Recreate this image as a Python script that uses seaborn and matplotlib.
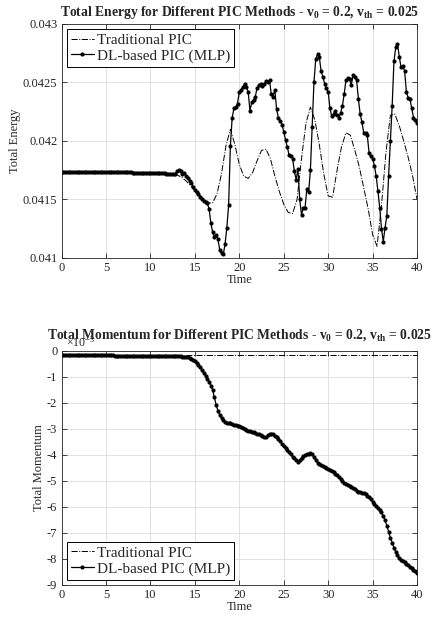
import numpy as np
import pandas as pd
import matplotlib
matplotlib.use("Agg")
import matplotlib.pyplot as plt
import seaborn as sns
from matplotlib.ticker import FixedLocator, FuncFormatter

# ---------------- data ----------------
t_dl = np.round(np.arange(0, 40.0001, 0.2), 1)      # 201 samples
t_trad = np.round(np.arange(0, 40.0001, 0.5), 1)    # 81 samples
t_trad_mom = [0, 5, 10, 15, 20, 25, 30, 35, 40]

dl_energy = [
    # 0.0 - 12.6
    0.041735, 0.041735, 0.041735, 0.041735, 0.041735, 0.041735, 0.041735, 0.041735,
    0.041734, 0.041734, 0.041734, 0.041734, 0.041734, 0.041734, 0.041734, 0.041734,
    0.041733, 0.041733, 0.041733, 0.041733, 0.041733, 0.041733, 0.041733, 0.041733,
    0.041732, 0.041732, 0.041732, 0.041732, 0.041732, 0.041732, 0.041732, 0.041732,
    0.041731, 0.041731, 0.041731, 0.041731, 0.041731, 0.041731, 0.041731, 0.041731,
    0.041730, 0.041730, 0.041730, 0.041730, 0.041730, 0.041729, 0.041729, 0.041729,
    0.041728, 0.041728, 0.041727, 0.041727, 0.041726, 0.041726, 0.041725, 0.041725,
    0.041724, 0.041723, 0.041723, 0.041722, 0.041722, 0.041721, 0.041721, 0.041720,
    # 12.8 - 14.4
    0.04172, 0.04174, 0.04175, 0.04174, 0.04172, 0.04173, 0.04170, 0.04168, 0.04166,
    # 14.6 - 25.4
    0.04164, 0.04161, 0.04158, 0.04156, 0.04155, 0.04152, 0.04150, 0.04149, 0.04148,
    0.04147, 0.04142, 0.04130, 0.04122, 0.04118, 0.04120, 0.04116, 0.04107, 0.04104,
    0.04103, 0.04112, 0.04126, 0.04145, 0.04196, 0.04220, 0.04228, 0.04229, 0.04232,
    0.04242, 0.04244, 0.04246, 0.04249, 0.04246, 0.04242, 0.04226, 0.04233, 0.04235,
    0.04238, 0.04245, 0.04248, 0.04249, 0.04247, 0.04249, 0.04251, 0.04250, 0.04252,
    0.04240, 0.04238, 0.04244, 0.04227, 0.04220, 0.04217, 0.04214, 0.04208, 0.04201,
    0.04195,
    # 25.6 - 40.0
    0.04188, 0.04187, 0.04185, 0.04174, 0.04167, 0.04176, 0.04150, 0.04137, 0.04143,
    0.04143, 0.04159, 0.04156, 0.04175, 0.04212, 0.04250, 0.04270, 0.04274, 0.04272,
    0.04260, 0.04255, 0.04249, 0.04245, 0.04242, 0.04228, 0.04221, 0.04223, 0.04226,
    0.04222, 0.04220, 0.04224, 0.04230, 0.04240, 0.04252, 0.04254, 0.04253, 0.04248,
    0.04256, 0.04255, 0.04252, 0.04236, 0.04223, 0.04216, 0.04207, 0.04207, 0.04205,
    0.04190, 0.04187, 0.04185, 0.04179, 0.04170, 0.04157, 0.04143, 0.04125, 0.04114,
    0.04126, 0.04136, 0.04170, 0.04200, 0.04230, 0.04268, 0.04280, 0.04283, 0.04272,
    0.04263, 0.04264, 0.04260, 0.04242, 0.04237, 0.04236, 0.04228, 0.04220, 0.04218,
    0.04215,
]

trad_energy = [
    # 0.0 - 12.5
    0.041735, 0.041735, 0.041735, 0.041735, 0.041734, 0.041734, 0.041734, 0.041733,
    0.041733, 0.041733, 0.041732, 0.041732, 0.041732, 0.041731, 0.041731, 0.041731,
    0.041730, 0.041730, 0.041730, 0.041730, 0.041730, 0.04173, 0.04173, 0.04172,
    0.04172, 0.04172,
    # 13.0 - 40.0
    0.04171, 0.04169, 0.04166, 0.04162, 0.04158, 0.04154, 0.04150, 0.04147, 0.04147,
    0.04155, 0.04172, 0.04196, 0.04210, 0.04197, 0.04180, 0.04170, 0.04168, 0.04173,
    0.04183, 0.04192, 0.04193, 0.04185, 0.04170, 0.04157, 0.04146, 0.04139, 0.04138,
    0.04150, 0.04185, 0.04215, 0.04229, 0.04218, 0.04197, 0.04172, 0.04153, 0.04152,
    0.04175, 0.04195, 0.04207, 0.04205, 0.04192, 0.04178, 0.04160, 0.04142, 0.04120,
    0.04110, 0.04145, 0.04190, 0.04222, 0.04223, 0.04213, 0.04200, 0.04186, 0.04170,
    0.04150,
]

# momentum in units of 1e-3
dl_momentum_e3 = [
    # 0.0 - 13.8
    -0.15, -0.15, -0.15, -0.15, -0.15, -0.15, -0.16, -0.16, -0.16, -0.16,
    -0.16, -0.16, -0.16, -0.16, -0.16, -0.17, -0.17, -0.17, -0.17, -0.17,
    -0.17, -0.17, -0.17, -0.17, -0.17, -0.17, -0.17, -0.17, -0.17, -0.17,
    -0.18, -0.18, -0.18, -0.18, -0.18, -0.18, -0.18, -0.18, -0.18, -0.18,
    -0.18, -0.18, -0.18, -0.18, -0.18, -0.19, -0.19, -0.19, -0.19, -0.19,
    -0.19, -0.19, -0.19, -0.19, -0.19, -0.20, -0.20, -0.20, -0.20, -0.20,
    -0.20, -0.20, -0.20, -0.21, -0.21, -0.21, -0.21, -0.21, -0.22, -0.22,
    # 14.0 - 40.0
    -0.23, -0.24, -0.26, -0.30, -0.35, -0.40, -0.47, -0.55, -0.63, -0.73,
    -0.84, -0.95, -1.07, -1.20, -1.33, -1.50, -1.78, -2.08, -2.30, -2.46,
    -2.58, -2.67, -2.73, -2.76, -2.78, -2.78, -2.80, -2.83, -2.84, -2.87,
    -2.90, -2.94, -2.97, -3.00, -3.04, -3.06, -3.08, -3.10, -3.13, -3.15,
    -3.18, -3.20, -3.23, -3.27, -3.31, -3.30, -3.25, -3.21, -3.19, -3.21,
    -3.26, -3.31, -3.39, -3.47, -3.56, -3.65, -3.73, -3.81, -3.90, -3.98,
    -4.06, -4.13, -4.20, -4.27, -4.20, -4.12, -4.05, -4.00, -3.97, -3.95,
    -3.93, -3.97, -4.08, -4.20, -4.30, -4.36, -4.40, -4.44, -4.48, -4.51,
    -4.55, -4.59, -4.63, -4.67, -4.72, -4.78, -4.85, -4.93, -5.00, -5.06,
    -5.10, -5.14, -5.18, -5.22, -5.27, -5.32, -5.37, -5.41, -5.44, -5.45,
    -5.47, -5.50, -5.56, -5.63, -5.71, -5.80, -5.90, -5.98, -6.05, -6.11,
    -6.20, -6.35, -6.52, -6.72, -6.95, -7.18, -7.38, -7.57, -7.73, -7.86,
    -7.96, -8.03, -8.08, -8.13, -8.18, -8.24, -8.30, -8.36, -8.41, -8.47,
    -8.53,
]
trad_momentum_e3 = [-0.14, -0.14, -0.14, -0.14, -0.14, -0.14, -0.14, -0.14, -0.14]

energy_yticks = [0.041, 0.0415, 0.042, 0.0425, 0.043]
x_ticks = [0, 5, 10, 15, 20, 25, 30, 35, 40]
mom_yticks_e3 = [-9, -8, -7, -6, -5, -4, -3, -2, -1, 0]

df_e_dl = pd.DataFrame({"Time": t_dl, "Energy": dl_energy})
df_e_tr = pd.DataFrame({"Time": t_trad, "Energy": trad_energy})
df_m_dl = pd.DataFrame({"Time": t_dl, "Momentum": np.array(dl_momentum_e3) * 1e-3})
df_m_tr = pd.DataFrame({"Time": t_trad_mom, "Momentum": np.array(trad_momentum_e3) * 1e-3})

# ---------------- style ----------------
sns.set_style("ticks")
plt.rcParams.update({
    "font.family": ["Liberation Serif", "DejaVu Serif"],
    "mathtext.fontset": "custom",
    "mathtext.rm": "Liberation Serif",
    "mathtext.bf": "Liberation Serif:bold",
    "mathtext.it": "Liberation Serif:italic",
    "axes.unicode_minus": False,
})

fig = plt.figure(figsize=(4.32, 6.2), dpi=100)
ax1 = fig.add_axes([0.1424, 0.5839, 0.823, 0.3774])
ax2 = fig.add_axes([0.1424, 0.0565, 0.823, 0.3774])

def style_axes(ax):
    ax.grid(True, color="#dcdcdc", linewidth=0.6)
    ax.set_axisbelow(True)
    ax.tick_params(direction="in", top=True, right=True, length=3.5, width=0.6,
                   labelsize=9, colors="#262626", pad=3)
    for s in ax.spines.values():
        s.set_linewidth(0.6)
        s.set_color("#262626")

line_kw = dict(color="black", linewidth=0.7, linestyle="-.")
mk_kw = dict(color="black", linewidth=0.9, marker="o", markersize=3.0,
             markeredgewidth=0, markerfacecolor="black")
leg_kw = dict(fontsize=11, frameon=True, fancybox=False, edgecolor="black",
              framealpha=1, handlelength=1.5, borderpad=0.25, labelspacing=0.15,
              handletextpad=0.2, borderaxespad=0.35)

# ---- Energy ----
sns.lineplot(data=df_e_tr, x="Time", y="Energy", ax=ax1, label="Traditional PIC", **line_kw)
sns.lineplot(data=df_e_dl, x="Time", y="Energy", ax=ax1, label="DL-based PIC (MLP)", **mk_kw)
ax1.set_xlim(0, 40)
ax1.set_ylim(0.041, 0.043)
ax1.xaxis.set_major_locator(FixedLocator(x_ticks))
ax1.yaxis.set_major_locator(FixedLocator(energy_yticks))
ax1.yaxis.set_major_formatter(FuncFormatter(lambda v, p: f"{v:g}"))
style_axes(ax1)
ax1.set_xlabel("Time", fontsize=9, labelpad=0)
ax1.set_ylabel("Total Energy", fontsize=9, labelpad=1)
ax1.set_title(r"Total Energy for Different PIC Methods - v$_\mathbf{0}$ = 0.2, v$_\mathbf{th}$ = 0.025",
              fontsize=9.8, fontweight="bold", pad=5.5)
ax1.legend(loc="upper left", **leg_kw).get_frame().set_linewidth(0.7)

# ---- Momentum ----
sns.lineplot(data=df_m_tr, x="Time", y="Momentum", ax=ax2, label="Traditional PIC", **line_kw)
sns.lineplot(data=df_m_dl, x="Time", y="Momentum", ax=ax2, label="DL-based PIC (MLP)", **mk_kw)
ax2.set_xlim(0, 40)
ax2.set_ylim(-9e-3, 0)
ax2.xaxis.set_major_locator(FixedLocator(x_ticks))
ax2.yaxis.set_major_locator(FixedLocator(np.array(mom_yticks_e3) * 1e-3))
ax2.yaxis.set_major_formatter(FuncFormatter(lambda v, p: f"{round(v * 1e3):d}"))
style_axes(ax2)
ax2.text(0.012, 1.004, r"$\times$10$^{-3}$", transform=ax2.transAxes, fontsize=8.5,
         color="#262626", ha="left", va="bottom", zorder=1)
ax2.set_xlabel("Time", fontsize=9, labelpad=0)
ax2.set_ylabel("Total Momentum", fontsize=9, labelpad=1)
ax2.set_title(r"Total Momentum for Different PIC Methods - v$_\mathbf{0}$ = 0.2, v$_\mathbf{th}$ = 0.025",
              fontsize=9.8, fontweight="bold", pad=9)
ax2.legend(loc="lower left", **leg_kw).get_frame().set_linewidth(0.7)

fig.savefig("out.png", dpi=100)
